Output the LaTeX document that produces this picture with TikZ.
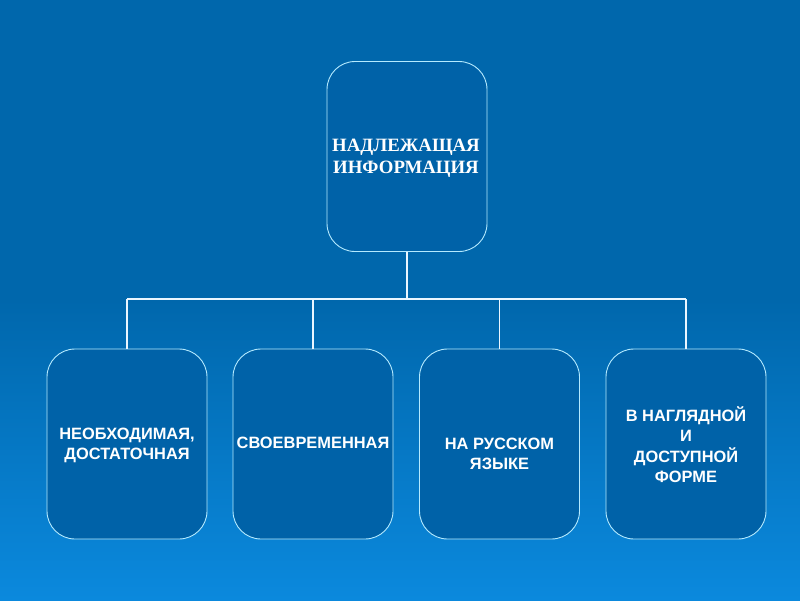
\documentclass[tikz,border=0pt]{standalone}
\usepackage{fontspec}
\setmainfont{Liberation Serif}
\newfontfamily\boxsans{Liberation Sans}
\definecolor{bgtop}{HTML}{0067AC}
\definecolor{bgbot}{HTML}{0B89DD}
\definecolor{boxfill}{HTML}{0062A8}
\definecolor{boxline}{HTML}{B4EAFF}
\definecolor{connline}{HTML}{EAF6FF}
\tikzset{
  card/.style={draw=boxline, line width=0.9pt, fill=boxfill, rounded corners=28pt,
    minimum width=160pt, minimum height=190pt, inner sep=0pt},
  toptext/.style={text=white, font=\bfseries\fontsize{18.8}{22}\selectfont, align=center},
  lbl/.style={text=white, font=\boxsans\bfseries\fontsize{16.4}{20.5}\selectfont, align=center},
  conn/.style={draw=connline, line width=1.8pt}
}
\begin{document}
\begin{tikzpicture}[x=1pt,y=-1pt]
\useasboundingbox (0,0) rectangle (800,600);
\fill[bgtop] (0,0) rectangle (800,300);
\shade[top color=bgtop, bottom color=bgbot] (0,299.5) rectangle (800,600);
\node[card] (top) at (407,156.5) {};
\node[toptext] (ttop) at (406,158) {НАДЛЕЖАЩАЯ\\ИНФОРМАЦИЯ};
\node[card] (b1) at (127,444) {};
\node[card] (b2) at (313,444) {};
\node[card] (b3) at (499.5,444) {};
\node[card] (b4) at (686,444) {};
\node[lbl] (t1) at ([yshift=-1.5pt]b1.center) {НЕОБХОДИМАЯ,\\ДОСТАТОЧНАЯ};
\node[lbl] (t2) at ([yshift=1pt]b2.center) {СВОЕВРЕМЕННАЯ};
\node[lbl] (t3) at ([yshift=-10pt]b3.center) {НА РУССКОМ\\ЯЗЫКЕ};
\node[lbl] (t4) at ([yshift=-0.5pt]b4.center) {В НАГЛЯДНОЙ\\И\\ДОСТУПНОЙ\\ФОРМЕ};
\coordinate (bus) at (407,299);
\draw[conn] (top.south) -- (top.south |- bus);
\draw[conn] (b1.north |- bus) -- (b4.north |- bus);
\foreach \b in {b1,b2,b3,b4} \draw[conn] (\b.north) -- (\b.north |- bus);
\end{tikzpicture}
\end{document}
